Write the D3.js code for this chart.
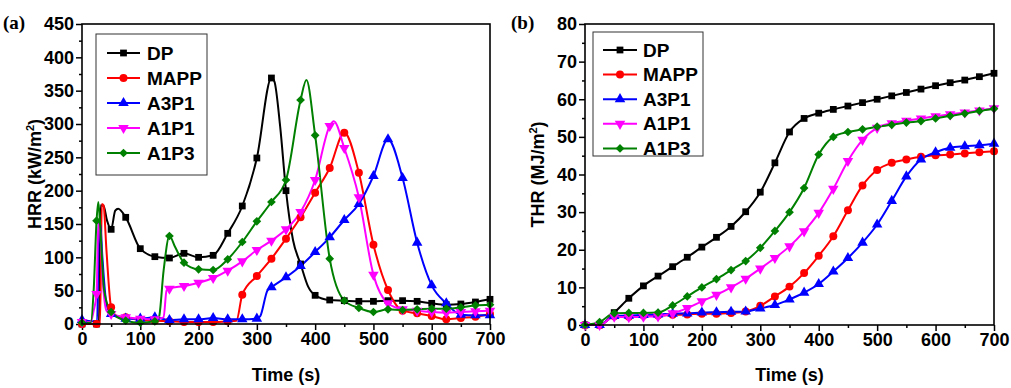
<!DOCTYPE html>
<html>
<head>
    <script src="https://d3js.org/d3.v7.min.js"></script>
    <style>
        body { margin: 0; background: #fff; }
    </style>
</head>
<body>
    <svg id="chart"></svg>
    <script>
        // series names and styles shared by both panels
        const seriesNames = ["DP", "MAPP", "A3P1", "A1P1", "A1P3"];
        const seriesColors = ["#000000", "#ff0000", "#0000ff", "#ff00ff", "#008000"];

        // (a) heat release rate, [time s, HRR kW/m2]
        const hrrDP = [[0,0],[25,0],[29,0],[32,178],[37,177],[43,155],[50,142],[57,170],[62,173],[75,160],[100,113],[125,101],[150,99],[175,106],[200,100],[225,103],[250,136],[275,177],[300,249],[325,369],[330,364],[340,296],[350,200],[362,126],[375,90],[388,56],[400,43],[425,36],[450,35],[475,34],[500,34],[525,35],[550,35],[575,34],[600,31],[625,29],[650,30],[675,33],[700,37]];
        const hrrMAPP = [[0,0],[25,0],[31,0],[34,180],[37,178],[42,110],[50,25],[60,12],[75,10],[100,6],[125,5],[150,4],[175,3],[200,3],[225,3],[250,4],[265,5],[275,44],[300,72],[325,98],[350,128],[375,160],[400,197],[425,234],[450,287],[475,227],[500,119],[525,51],[550,20],[575,16],[600,12],[625,7],[650,9],[675,11],[700,15]];
        const hrrA3P1 = [[0,6],[20,4],[26,4],[29,150],[31,153],[35,100],[42,30],[50,15],[75,8],[100,8],[125,10],[150,6],[175,7],[200,7],[225,9],[250,7],[275,7],[300,8],[306,12],[318,50],[325,55],[350,70],[375,87],[400,108],[425,130],[450,156],[475,180],[500,222],[525,277],[550,219],[575,122],[600,58],[625,31],[650,14],[675,13],[700,13]];
        const hrrA1P1 = [[0,3],[15,3],[20,20],[25,45],[28,150],[31,140],[36,60],[42,20],[50,15],[75,10],[100,8],[125,7],[140,10],[145,50],[150,53],[175,57],[200,62],[225,69],[250,80],[275,94],[300,111],[325,125],[350,142],[375,168],[400,216],[425,297],[432,304],[450,264],[475,190],[500,74],[525,31],[550,22],[575,20],[600,18],[625,17],[650,18],[675,19],[700,20]];
        const hrrA1P3 = [[0,2],[15,2],[20,50],[25,155],[28,183],[31,150],[38,50],[50,18],[75,5],[100,2],[125,4],[132,10],[140,80],[150,132],[160,115],[175,92],[200,82],[225,81],[250,97],[275,123],[300,154],[325,183],[350,216],[375,336],[385,366],[400,283],[425,98],[450,35],[475,24],[500,18],[525,22],[550,21],[575,22],[600,23],[625,23],[650,25],[675,28],[700,29]];

        // (b) total heat release, one value every 25 s
        const thrTime = d3.range(0, 701, 25);
        const thrDP = [0,0,3.3,7.1,10.4,13,15.5,18,20.7,23.3,26.2,30.1,35.3,43.1,51.3,54.9,56.3,57.3,58.2,59.1,60,60.9,61.8,62.7,63.6,64.4,65.1,66,66.9];
        const thrMAPP = [0,0,2.3,2.2,2.5,2.5,2.7,2.8,3,3,3.2,3.6,5.1,7.6,10.2,13.8,18.4,23.6,30.5,37.1,41.2,43.1,44,44.7,45.1,45.3,45.6,45.9,46.2];
        const thrA3P1 = [0,0,2.4,2.5,2.7,2.8,3,3.1,3.3,3.4,3.5,3.6,4.4,5.3,6.8,8.6,10.9,14.2,17.8,21.9,26.7,33,39.5,44,45.9,47.1,47.5,47.8,48.2];
        const thrA1P1 = [0,0,2.2,2.1,2.2,2.3,3.1,4.5,6.3,8,10,12.3,15,17.8,20.9,24.9,29.8,36.2,43.6,49.2,52.4,53.6,54.3,54.9,55.5,56,56.5,57,57.6];
        const thrA1P3 = [0,0.8,3.1,3.2,3.2,3.3,5.2,7.6,10,12.2,14.6,17,20.5,25,30,36.4,45.3,50,51.3,52,52.7,53.2,53.8,54.2,54.9,55.6,56.2,56.9,57.5];

        const xTicks = [0, 100, 200, 300, 400, 500, 600, 700];
        const hrrTicks = [0, 50, 100, 150, 200, 250, 300, 350, 400, 450];
        const thrTicks = [0, 10, 20, 30, 40, 50, 60, 70, 80];

        const svg = d3.select("#chart").attr("width", 1011).attr("height", 388);

        const sansFont = "'Liberation Sans', Arial, sans-serif";

        // marker per series: square, circle, triangle up, triangle down, diamond
        function marker(i) {
            if (i === 0) return { path: d3.symbol(d3.symbolSquare, 46)(), rot: 0 };
            if (i === 1) return { path: d3.symbol(d3.symbolCircle, 50)(), rot: 0 };
            if (i === 2) return { path: d3.symbol(d3.symbolTriangle, 48)(), rot: 0 };
            if (i === 3) return { path: d3.symbol(d3.symbolTriangle, 48)(), rot: 180 };
            return { path: d3.symbol(d3.symbolSquare, 38)(), rot: 45 };
        }

        function drawPanel(p) {
            const g = svg.append("g");
            const x = d3.scaleLinear().domain([0, 700]).range([p.left, p.right]);
            const y = d3.scaleLinear().domain([0, p.yMax]).range([p.bottom, p.top]);

            // minor ticks
            g.append("g").attr("transform", `translate(0,${p.bottom})`)
                .call(d3.axisBottom(x).tickValues(d3.range(50, 700, 100)).tickSize(3).tickFormat(""))
                .call(a => a.select(".domain").remove());
            g.append("g").attr("transform", `translate(${p.left},0)`)
                .call(d3.axisLeft(y).tickValues(p.yMinor).tickSize(3).tickFormat(""))
                .call(a => a.select(".domain").remove());

            // major ticks
            const xa = g.append("g").attr("transform", `translate(0,${p.bottom})`)
                .call(d3.axisBottom(x).tickValues(xTicks).tickSize(6).tickPadding(2));
            const ya = g.append("g").attr("transform", `translate(${p.left},0)`)
                .call(d3.axisLeft(y).tickValues(p.yTicks).tickSize(6).tickPadding(2));
            [xa, ya].forEach(a => {
                a.select(".domain").remove();
                a.selectAll("text").attr("font-family", sansFont).attr("font-size", 18)
                    .attr("font-weight", "bold").attr("fill", "#000");
            });
            g.selectAll(".tick line").attr("stroke", "#000").attr("stroke-width", 1.5);

            const line = d3.line().x(d => x(d[0])).y(d => y(d[1])).curve(d3.curveMonotoneX);

            p.series.forEach((s, i) => {
                g.append("path").datum(s).attr("d", line)
                    .attr("fill", "none").attr("stroke", seriesColors[i]).attr("stroke-width", 2);
            });
            p.series.forEach((s, i) => {
                const m = marker(i);
                g.append("g").selectAll("path")
                    .data(s.filter(d => d[0] % 25 === 0))
                    .join("path")
                    .attr("d", m.path)
                    .attr("transform", d => `translate(${x(d[0])},${y(d[1])}) rotate(${m.rot})`)
                    .attr("fill", seriesColors[i]);
            });

            // frame
            g.append("rect").attr("x", p.left).attr("y", p.top)
                .attr("width", p.right - p.left).attr("height", p.bottom - p.top)
                .attr("fill", "none").attr("stroke", "#000").attr("stroke-width", 1.6);

            // axis titles
            g.append("text").attr("x", (p.left + p.right) / 2).attr("y", 381)
                .attr("text-anchor", "middle").attr("font-family", sansFont)
                .attr("font-size", 18).attr("font-weight", "bold").text("Time (s)");
            const yt = g.append("text")
                .attr("transform", `translate(${p.left - 41},${(p.top + p.bottom) / 2}) rotate(-90)`)
                .attr("text-anchor", "middle").attr("font-family", sansFont)
                .attr("font-size", 18).attr("font-weight", "bold");
            yt.append("tspan").text(p.yLabel);
            yt.append("tspan").attr("font-size", 11).attr("dy", -7).text("2");
            yt.append("tspan").attr("dy", 7).text(")");

            // panel letter
            g.append("text").attr("x", p.letterX).attr("y", 29)
                .attr("font-family", "'Liberation Serif', 'Times New Roman', serif")
                .attr("font-size", 19).attr("font-weight", "bold").text(p.letter);

            // legend
            const L = p.legend;
            g.append("rect").attr("x", L.x).attr("y", L.y).attr("width", L.w).attr("height", L.h)
                .attr("fill", "#fff").attr("stroke", "#333").attr("stroke-width", 1);
            seriesNames.forEach((name, i) => {
                const cy = L.first + i * L.step;
                const m = marker(i);
                g.append("line").attr("x1", L.lx1).attr("x2", L.lx2).attr("y1", cy).attr("y2", cy)
                    .attr("stroke", seriesColors[i]).attr("stroke-width", 2);
                g.append("path").attr("d", m.path)
                    .attr("transform", `translate(${(L.lx1 + L.lx2) / 2},${cy}) rotate(${m.rot})`)
                    .attr("fill", seriesColors[i]);
                g.append("text").attr("x", L.tx).attr("y", cy + 6.5)
                    .attr("font-family", sansFont).attr("font-size", 19)
                    .attr("font-weight", "bold").text(name);
            });
        }

        drawPanel({
            left: 82, right: 490, top: 24, bottom: 324, yMax: 450,
            yTicks: hrrTicks, yMinor: d3.range(25, 450, 50),
            series: [hrrDP, hrrMAPP, hrrA3P1, hrrA1P1, hrrA1P3],
            yLabel: "HRR (kW/m", letter: "(a)", letterX: 3,
            legend: { x: 96, y: 34, w: 111, h: 141, first: 53, step: 25, lx1: 107, lx2: 140, tx: 147 }
        });

        const zip = vals => thrTime.map((t, i) => [t, vals[i]]);
        drawPanel({
            left: 585, right: 994, top: 24, bottom: 325, yMax: 80,
            yTicks: thrTicks, yMinor: d3.range(5, 80, 10),
            series: [zip(thrDP), zip(thrMAPP), zip(thrA3P1), zip(thrA1P1), zip(thrA1P3)],
            yLabel: "THR (MJ/m", letter: "(b)", letterX: 511,
            legend: { x: 593, y: 32, w: 110, h: 124, first: 50, step: 24.6, lx1: 603, lx2: 637, tx: 643 }
        });
    </script>
</body>
</html>
